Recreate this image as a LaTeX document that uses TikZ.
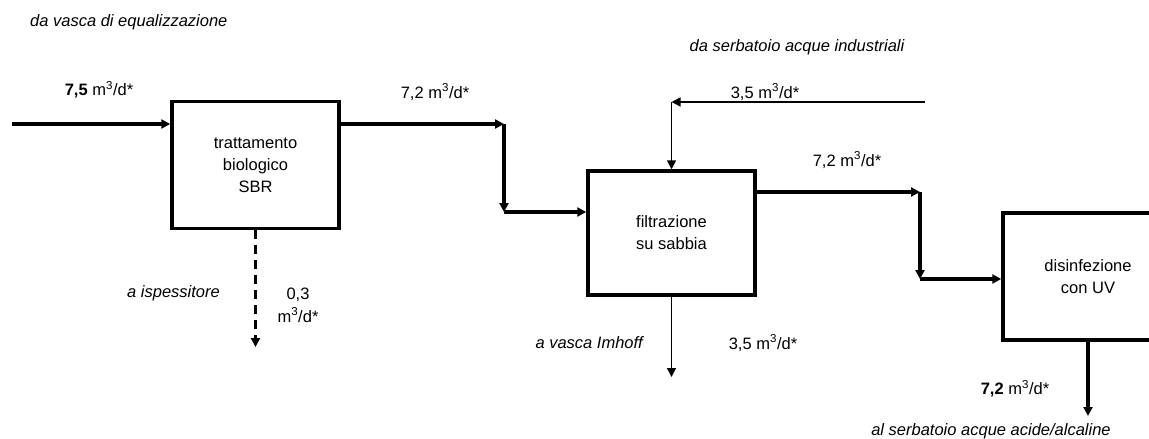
\documentclass[tikz,border=0pt]{standalone}
\usepackage{fontspec}
\setmainfont{Liberation Sans}
\usetikzlibrary{positioning}
\usetikzlibrary{arrows.meta}
\usetikzlibrary{calc}
\definecolor{figNero}{RGB}{0,0,0}
\definecolor{figFondo}{RGB}{255,255,255}
\newcommand{\portata}[1]{#1 m\textsuperscript{3}/d*}
\tikzset{
  vasca/.style={
    rectangle, draw=figNero, line width=3.5pt, fill=figFondo,
    minimum width=167pt, minimum height=127pt,
    align=center, font=\fontsize{16.5}{22}\selectfont, inner sep=0pt
  },
  flusso/.style={-{Triangle[length=9pt,width=9pt]}, line width=3.2pt, draw=figNero},
  flussos/.style={-{Triangle[length=9pt,width=9pt]}, line width=1.5pt, draw=figNero},
  fanghi/.style={-{Triangle[length=9pt,width=9pt]}, line width=3.2pt, draw=figNero,
    dash pattern=on 9pt off 6pt},
  etichetta/.style={font=\fontsize{16.5}{23}\selectfont, inner sep=0pt, align=center},
  nota/.style={font=\fontsize{16.5}{22}\selectfont\itshape, inner sep=0pt}
}
\begin{document}
\begin{tikzpicture}[x=1pt, y=-1pt]
  \useasboundingbox (0,0) rectangle (1149,439);

  \node[vasca] (sbr) at (255.5,165) {trattamento\\biologico\\SBR};
  \node[vasca, minimum height=124pt] (filtro) at (671.5,233) {filtrazione\\su sabbia};
  \node[vasca, minimum width=170pt] (uv) at (1088,276.5) {disinfezione\\con UV};

  \coordinate (ingresso) at (12,124);
  \coordinate (g1) at (504,124);
  \coordinate (g2) at (504,212);
  \coordinate (ispess) at (255.5,347);
  \coordinate (industr) at (925,102);
  \coordinate (g3) at (filtro.north |- industr);
  \coordinate (g4) at (920,192);
  \coordinate (g5) at (920,279);
  \coordinate (imhoff) at (671.5,377);
  \coordinate (acide) at (1088,416);

  \draw[flusso] (ingresso) -- (ingresso -| sbr.west);
  \draw[flusso] (sbr.east |- g1) -- (g1);
  \draw[flusso] (g1) -- (g2);
  \draw[flusso] (g2) -- (g2 -| filtro.west);
  \draw[fanghi] (sbr.south) -- (ispess);
  \draw[flussos] (industr) -- (g3);
  \draw[flussos] (g3) -- (filtro.north);
  \draw[flusso] (filtro.east |- g4) -- (g4);
  \draw[flusso] (g4) -- (g5);
  \draw[flusso] (g5) -- (g5 -| uv.west);
  \draw[flussos] (filtro.south) -- (imhoff);
  \draw[flusso] (uv.south) -- (acide);

  \node[nota, anchor=west] (equal) at (30,22) {da vasca di equalizzazione};
  \node[etichetta] (q1) at (99,90) {\textbf{7,5} m\textsuperscript{3}/d*};
  \node[etichetta] (q2) at (435,92) {\portata{7,2}};
  \node[nota, anchor=east] (isp) at (220,293) {a ispessitore};
  \node[etichetta] (q3) at (298,305) {0,3\\m\textsuperscript{3}/d*};
  \node[nota] (serb) at (797,47) {da serbatoio acque industriali};
  \node[etichetta] (q4) at (765,92) {\portata{3,5}};
  \node[etichetta] (q5) at (847,160) {\portata{7,2}};
  \node[nota, anchor=east] (imh) at (643,343) {a vasca Imhoff};
  \node[etichetta] (q6) at (763,343) {\portata{3,5}};
  \node[etichetta] (q7) at (1015,389) {\textbf{7,2} m\textsuperscript{3}/d*};
  \node[nota] (acid) at (991,431) {al serbatoio acque acide/alcaline};
\end{tikzpicture}
\end{document}
